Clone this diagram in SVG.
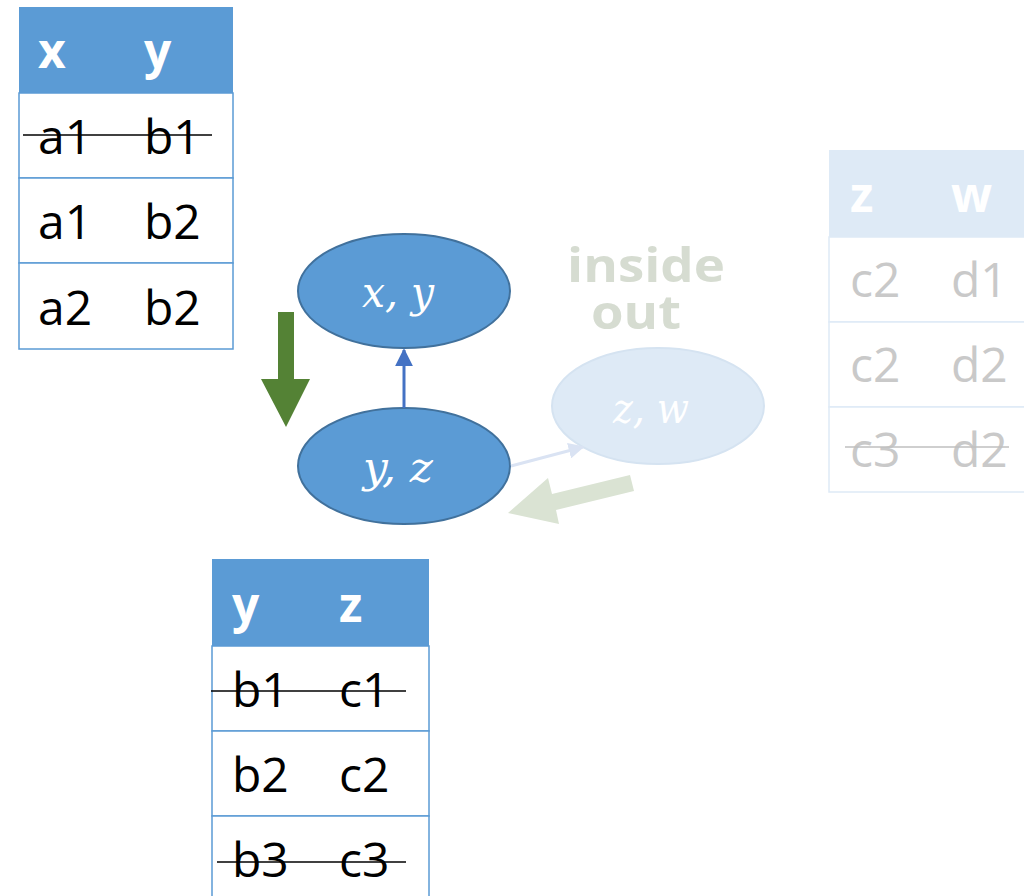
<svg xmlns="http://www.w3.org/2000/svg" width="1024" height="896" viewBox="0 0 1024 896">
<style>
.hd{font-family:"Open Sans","Noto Sans",sans-serif;font-weight:bold;font-size:48px;fill:#ffffff}
.cell{font-family:"Open Sans","Noto Sans",sans-serif;font-size:48px;fill:#000000}
.fcell{font-family:"Open Sans","Noto Sans",sans-serif;font-size:48px;fill:#c9c9c9}
.grid{fill:#ffffff;stroke:#5B9BD5;stroke-width:1.5}
.fgrid{fill:#ffffff;stroke:#DEEAF6;stroke-width:1.5}
.strike{stroke:#000000;stroke-width:1.5}
.math{font-family:"DejaVu Serif","Liberation Serif",serif;font-style:italic;font-size:42px;fill:#ffffff}
.node{fill:#5B9BD5;stroke:#41719C;stroke-width:2}
</style>
<defs>
<marker id="ah" viewBox="0 0 10 10" refX="9" refY="5" markerWidth="18" markerHeight="18" orient="auto" markerUnits="userSpaceOnUse">
<path d="M0,0 L10,5 L0,10 z" fill="#4472C4"/>
</marker>
<marker id="ahl" viewBox="0 0 10 10" refX="9" refY="5" markerWidth="16" markerHeight="16" orient="auto" markerUnits="userSpaceOnUse">
<path d="M0,0 L10,5 L0,10 z" fill="#DAE3F3"/>
</marker>
</defs>

<g id="table-xy">
<rect x="19" y="7" width="214" height="86" fill="#5B9BD5"/>
<rect class="grid" x="19" y="93" width="214" height="85"/>
<rect class="grid" x="19" y="178" width="214" height="85"/>
<rect class="grid" x="19" y="263" width="214" height="86"/>
<text class="hd" x="38" y="68">x</text>
<text class="hd" x="144" y="68">y</text>
<text class="cell" x="38" y="154">a1</text>
<text class="cell" x="144" y="154">b1</text>
<line class="strike" x1="23" y1="135" x2="212" y2="135"/>
<text class="cell" x="38" y="239">a1</text>
<text class="cell" x="144" y="239">b2</text>
<text class="cell" x="38" y="325">a2</text>
<text class="cell" x="144" y="325">b2</text>
</g>

<g id="table-zw">
<rect x="829" y="150" width="200" height="87" fill="#DEEAF6"/>
<rect class="fgrid" x="829" y="237" width="200" height="85"/>
<rect class="fgrid" x="829" y="322" width="200" height="85"/>
<rect class="fgrid" x="829" y="407" width="200" height="85"/>
<text class="hd" x="850" y="212">z</text>
<text class="hd" x="951" y="212">w</text>
<text class="fcell" x="850" y="297">c2</text>
<text class="fcell" x="951" y="297">d1</text>
<text class="fcell" x="850" y="382">c2</text>
<text class="fcell" x="951" y="382">d2</text>
<text class="fcell" x="850" y="467">c3</text>
<text class="fcell" x="951" y="467">d2</text>
<line x1="845" y1="447" x2="1009" y2="447" stroke="#bfbfbf" stroke-width="1.5"/>
</g>

<g id="table-yz">
<rect x="212" y="559" width="217" height="87" fill="#5B9BD5"/>
<rect class="grid" x="212" y="646" width="217" height="85"/>
<rect class="grid" x="212" y="731" width="217" height="85"/>
<rect class="grid" x="212" y="816" width="217" height="90"/>
<text class="hd" x="232" y="622">y</text>
<text class="hd" x="339" y="622">z</text>
<text class="cell" x="232" y="707">b1</text>
<text class="cell" x="339" y="707">c1</text>
<line class="strike" x1="211" y1="691" x2="406" y2="691"/>
<text class="cell" x="232" y="792">b2</text>
<text class="cell" x="339" y="792">c2</text>
<text class="cell" x="232" y="877">b3</text>
<text class="cell" x="339" y="877">c3</text>
<line class="strike" x1="217" y1="862" x2="406" y2="862"/>
</g>

<g id="node-xy">
<ellipse class="node" cx="404" cy="291" rx="106" ry="57"/>
<text class="math" x="398" y="307" text-anchor="middle" textLength="72" lengthAdjust="spacingAndGlyphs">x, y</text>
</g>

<g id="node-yz">
<ellipse class="node" cx="404" cy="466" rx="106" ry="58"/>
<text class="math" x="398" y="482" text-anchor="middle" textLength="70" lengthAdjust="spacingAndGlyphs">y, z</text>
</g>

<g id="node-zw">
<ellipse cx="658" cy="406" rx="106" ry="58" fill="#DEEAF6" stroke="#D5E3F1" stroke-width="2"/>
<text class="math" x="651" y="423" text-anchor="middle" textLength="76" lengthAdjust="spacingAndGlyphs">z, w</text>
</g>

<g id="label-inside-out">
<text font-family="Open Sans, Noto Sans, sans-serif" font-weight="bold" font-size="46" fill="#D6DCD1" text-anchor="middle"><tspan x="646" y="282" textLength="158" lengthAdjust="spacingAndGlyphs">inside</tspan><tspan x="636" y="329" textLength="90" lengthAdjust="spacingAndGlyphs">out</tspan></text>
</g>

<g id="connectors">
<line x1="404" y1="408" x2="404" y2="350" stroke="#4472C4" stroke-width="3" marker-end="url(#ah)"/>
<line x1="511" y1="466" x2="583" y2="447" stroke="#DAE3F3" stroke-width="3" marker-end="url(#ahl)"/>
<polygon points="278,312 294,312 294,379 310,379 286,427 261,379 278,379" fill="#548235"/>
<polygon points="630,475 634,491 556,510 559,524 508,513 548,478 552,494" fill="#DAE3D3"/>
</g>
</svg>
